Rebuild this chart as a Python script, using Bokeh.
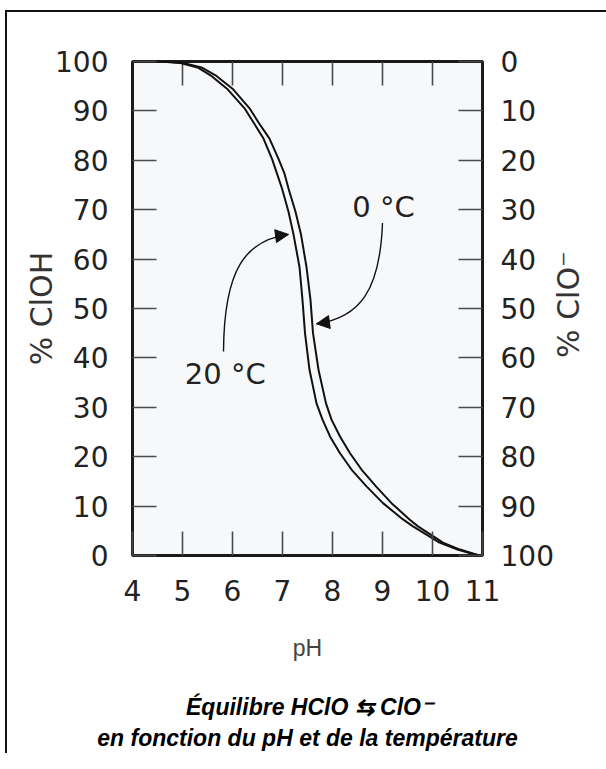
from math import pi
from bokeh.plotting import figure
from bokeh.models import Range1d, LinearAxis, FixedTicker, Label, Arrow, NormalHead
from bokeh.embed import file_html
from bokeh.resources import INLINE

# ---- data ----
ph_ticks = [4, 5, 6, 7, 8, 9, 10, 11]
pct_ticks = [0, 10, 20, 30, 40, 50, 60, 70, 80, 90, 100]

# 20 °C curve (left curve): pH vs % HClO
ph_20c = [4.55, 4.96, 5.30, 5.56, 5.89, 6.25, 6.43, 6.62, 6.79, 6.89, 6.99, 7.12,
          7.22, 7.34, 7.40, 7.45, 7.54, 7.68, 7.80, 7.95, 8.15, 8.38, 8.68, 9.01,
          9.41, 9.61, 10.14, 10.50, 10.81, 10.94]
pct_20c = [100, 99.7, 98.8, 97.2, 94.5, 90.4, 87.5, 84.4, 80.3, 77.3, 74.3, 69.6,
           65.0, 58.4, 51.7, 45.0, 37.6, 30.8, 27.5, 24.1, 20.7, 17.4, 14.0, 10.6,
           7.3, 5.9, 2.6, 1.2, 0.3, 0]

# 0 °C curve (right curve)
ph_0c = [4.60, 5.02, 5.38, 5.66, 6.00, 6.35, 6.53, 6.74, 6.92, 7.04, 7.12, 7.26,
         7.37, 7.48, 7.56, 7.61, 7.72, 7.87, 7.98, 8.15, 8.35, 8.58, 8.87, 9.18,
         9.54, 9.71, 10.21, 10.55, 10.84, 10.95]
pct_0c = [100, 99.7, 98.8, 97.2, 94.5, 90.4, 87.5, 84.4, 80.3, 77.3, 74.3, 69.6,
          65.0, 58.4, 51.7, 45.0, 37.6, 30.8, 27.5, 24.1, 20.7, 17.4, 14.0, 10.6,
          7.3, 5.9, 2.6, 1.2, 0.3, 0]

curve_labels = ["0 °C", "20 °C"]
left_title = "% ClOH"
right_title = "% ClO\u207b"
x_title = "pH"
caption = ["Équilibre HClO ⇆ ClO\u207b", "en fonction du pH et de la température"]

frame_css = ("linear-gradient(#111,#111) 5px 10px / 2px 2000px no-repeat, "
             "linear-gradient(#111,#111) 5px 10px / 2000px 2px no-repeat, white")

# ---- figure ----
p = figure(width=606, height=753,
           x_range=Range1d(4, 11), y_range=Range1d(0, 100),
           x_axis_location=None, y_axis_location=None,
           output_backend="svg", toolbar_location=None,
           min_border_left=132, min_border_right=123,
           min_border_top=61, min_border_bottom=197,
           styles={"background": frame_css})
p.extra_y_ranges = {"clo": Range1d(100, 0)}
p.grid.visible = False
p.background_fill_color = "#f7f8fa"
p.border_fill_color = None
p.outline_line_color = "#1a1a1a"
p.outline_line_width = 3

TICK_COLOR = "#4a4a4a"


def style_axis(ax, ticks, standoff):
    ax.ticker = FixedTicker(ticks=ticks)
    ax.major_tick_in = 24
    ax.major_tick_out = 0
    ax.minor_tick_in = 0
    ax.minor_tick_out = 0
    ax.major_tick_line_color = TICK_COLOR
    ax.major_tick_line_width = 1.6
    ax.axis_line_color = None
    ax.major_label_text_font = "DejaVu Sans"
    ax.major_label_text_font_size = "28px"
    ax.major_label_text_color = "#222222"
    ax.major_label_standoff = standoff


def label_only_axis(text, standoff, font, size, style, color, **kw):
    ax = LinearAxis(axis_label=text, **kw)
    ax.ticker = FixedTicker(ticks=[])
    ax.major_tick_in = 0
    ax.major_tick_out = 0
    ax.minor_tick_in = 0
    ax.minor_tick_out = 0
    ax.major_label_standoff = 0
    ax.axis_line_color = None
    ax.axis_label_standoff = standoff
    ax.axis_label_text_font = font
    ax.axis_label_text_font_size = size
    ax.axis_label_text_font_style = style
    ax.axis_label_text_color = color
    return ax


# bottom: tick labels + "pH"
bottom = LinearAxis(axis_label=x_title)
style_axis(bottom, ph_ticks, 24)
bottom.axis_label_text_font = "Liberation Sans"
bottom.axis_label_text_font_style = "normal"
bottom.axis_label_text_font_size = "23px"
bottom.axis_label_text_color = "#444444"
bottom.axis_label_standoff = 31
p.add_layout(bottom, "below")

# caption lines below the x axis
p.add_layout(label_only_axis(caption[0], 30, "Liberation Sans", "23px", "bold italic", "#000000"), "below")
p.add_layout(label_only_axis(caption[1], 2, "Liberation Sans", "23px", "bold italic", "#000000"), "below")

# left: tick labels + title
left = LinearAxis(axis_label=left_title)
style_axis(left, pct_ticks, 24)
left.axis_label_text_font = "DejaVu Sans"
left.axis_label_text_font_style = "normal"
left.axis_label_text_font_size = "30px"
left.axis_label_text_color = "#333333"
left.axis_label_standoff = -7
p.add_layout(left, "left")

# right: reversed % ClO- tick labels
right = LinearAxis(y_range_name="clo")
style_axis(right, pct_ticks, 18)
p.add_layout(right, "right")

# right title, drawn as a single rotated label (reads bottom to top)
title_anchor = 40
right_lbl = LinearAxis()
right_lbl.ticker = FixedTicker(ticks=[title_anchor])
right_lbl.major_label_overrides = {title_anchor: right_title}
right_lbl.major_label_orientation = pi / 2
right_lbl.major_tick_in = 0
right_lbl.major_tick_out = 0
right_lbl.minor_tick_in = 0
right_lbl.minor_tick_out = 0
right_lbl.axis_line_color = None
right_lbl.major_label_standoff = 12
right_lbl.major_label_text_font = "DejaVu Sans"
right_lbl.major_label_text_font_size = "30px"
right_lbl.major_label_text_color = "#333333"
p.add_layout(right_lbl, "right")

# top ticks (inside the frame, no labels)
top_len = 24 / 4.95
p.segment(x0=ph_ticks[1:-1], y0=[100] * 6, x1=ph_ticks[1:-1], y1=[100 - top_len] * 6,
          line_color=TICK_COLOR, line_width=1.6)

# ---- curves ----
p.line(ph_20c, pct_20c, line_color="#111111", line_width=2)
p.line(ph_0c, pct_0c, line_color="#111111", line_width=2)

# ---- curve annotations (curved arrows) ----
p.bezier(x0=[9.00, 5.82], y0=[67.3, 41.3],
         x1=[7.68, 7.12], y1=[46.9, 65.0],
         cx0=[8.95, 5.83], cy0=[53.7, 57.8],
         cx1=[8.55, 6.25], cy1=[48.1, 63.8],
         line_color="#111111", line_width=1.4)
for xs, ys, xe, ye in [(8.55, 48.1, 7.68, 46.9), (6.25, 63.8, 7.12, 65.0)]:
    p.add_layout(Arrow(end=NormalHead(size=13, fill_color="#111111", line_color="#111111", line_width=1),
                       x_start=xs, y_start=ys, x_end=xe, y_end=ye,
                       line_alpha=0))

for txt, x, y in [(curve_labels[0], 9.02, 70.6), (curve_labels[1], 5.855, 36.7)]:
    p.add_layout(Label(x=x, y=y, text=txt, text_align="center", text_baseline="alphabetic",
                       text_font="DejaVu Sans", text_font_size="29px", text_color="#222222"))

open("out.html", "w").write(file_html(p, INLINE))
